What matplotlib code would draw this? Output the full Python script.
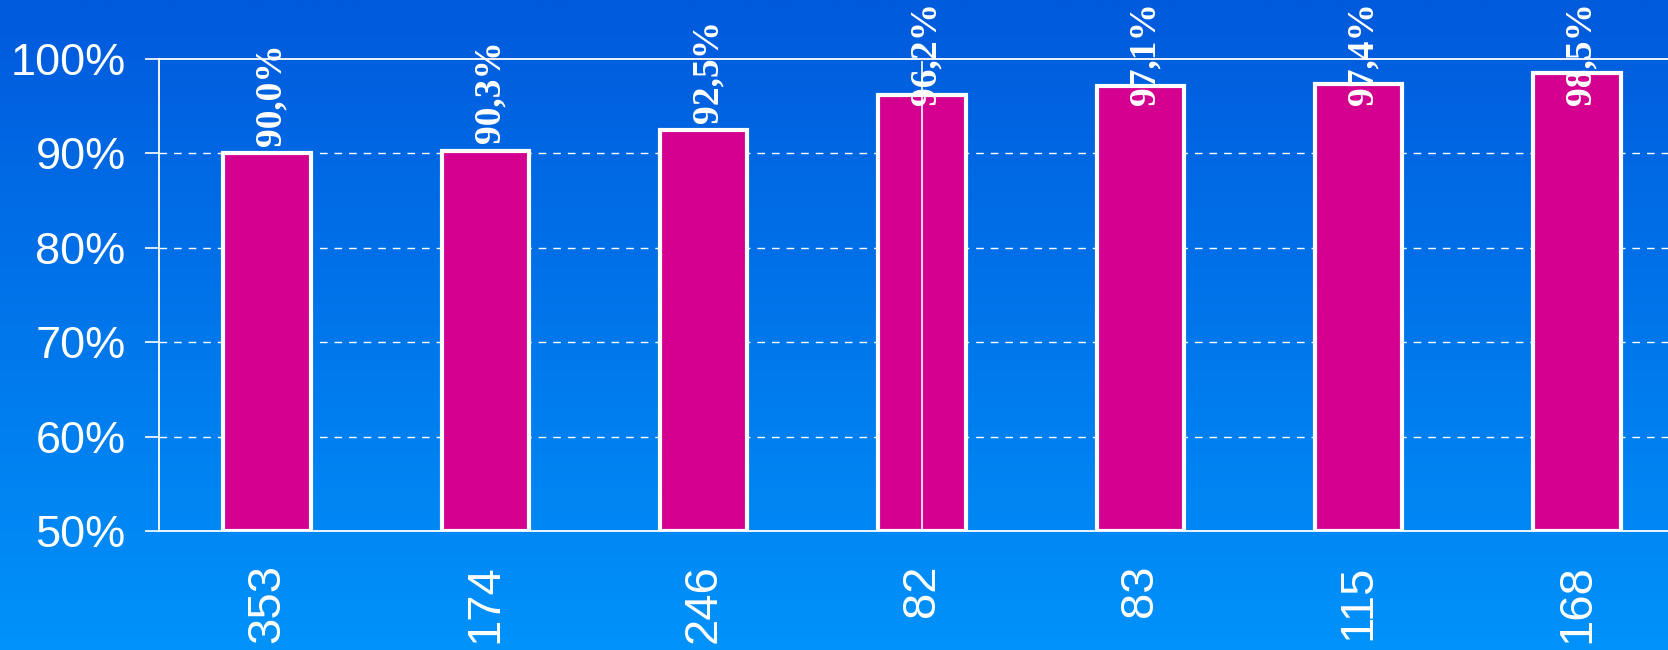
import numpy as np
import matplotlib
matplotlib.use("Agg")
import matplotlib.pyplot as plt
from matplotlib.colors import LinearSegmentedColormap

# ---- data ----
categories = ["353", "174", "246", "82", "83", "115", "168"]
values = [90.0, 90.3, 92.5, 96.2, 97.1, 97.4, 98.5]
value_labels = ["90,0%", "90,3%", "92,5%", "96,2%", "97,1%", "97,4%", "98,5%"]
yticks = [50, 60, 70, 80, 90, 100]
ytick_labels = ["50%", "60%", "70%", "80%", "90%", "100%"]

BAR_COLOR = "#D4008F"
TOP_BG = "#005ADC"
BOTTOM_BG = "#0092FA"

fig = plt.figure(figsize=(16.68, 6.5), dpi=100)

# gradient background
bg = fig.add_axes([0, 0, 1, 1], zorder=-10)
cmap = LinearSegmentedColormap.from_list("bg", [TOP_BG, BOTTOM_BG])
grad = np.linspace(0, 1, 256).reshape(-1, 1)
bg.imshow(grad, aspect="auto", cmap=cmap, extent=[0, 1, 0, 1], origin="upper")
bg.set_axis_off()

ax = fig.add_axes([159 / 1668, 1 - 531 / 650, 1 - 159 / 1668, (531 - 59) / 650])
ax.set_facecolor("none")

x = np.arange(len(categories))
ax.bar(x, [v - 50 for v in values], bottom=50, width=0.40, color=BAR_COLOR,
       edgecolor="white", linewidth=3, zorder=3)

# odd thin white line through the 4th bar in the reference
ax.vlines(3, 50, 99.8, color="white", linewidth=1.2, zorder=4)

# value labels (rotated, capped near figure top)
LABEL_CAP = 95.1
for xi, v, lab in zip(x, values, value_labels):
    ypos = min(v + 0.75, LABEL_CAP)
    ax.text(xi + 0.02, ypos, lab, rotation=90, ha="center", va="bottom",
            color="white", fontsize=27, fontweight="bold",
            family=["Liberation Serif", "DejaVu Serif"], zorder=5, clip_on=False)

ax.set_xlim(-0.495, 6.417)
ax.set_ylim(50, 100)
ax.set_yticks(yticks)
ax.set_yticklabels(ytick_labels, family=["Liberation Sans", "DejaVu Sans"],
                   fontsize=32.5, color="white")
ax.set_xticks(x)
ax.set_xticklabels(categories, rotation=90, fontsize=34, color="white",
                   family=["Liberation Sans", "DejaVu Sans"], va="top")

ax.tick_params(axis="y", length=10, width=1.2, color="white", pad=14, direction="out")
ax.tick_params(axis="x", length=0, pad=24)

for s in ["left", "bottom", "top"]:
    ax.spines[s].set_color("white")
    ax.spines[s].set_linewidth(1.3)
ax.spines["right"].set_visible(False)

for yv in [60, 70, 80, 90]:
    ax.axhline(yv, color="white", linewidth=1.0, dashes=(5.5, 5), zorder=1)

fig.savefig("out.png", dpi=100)
